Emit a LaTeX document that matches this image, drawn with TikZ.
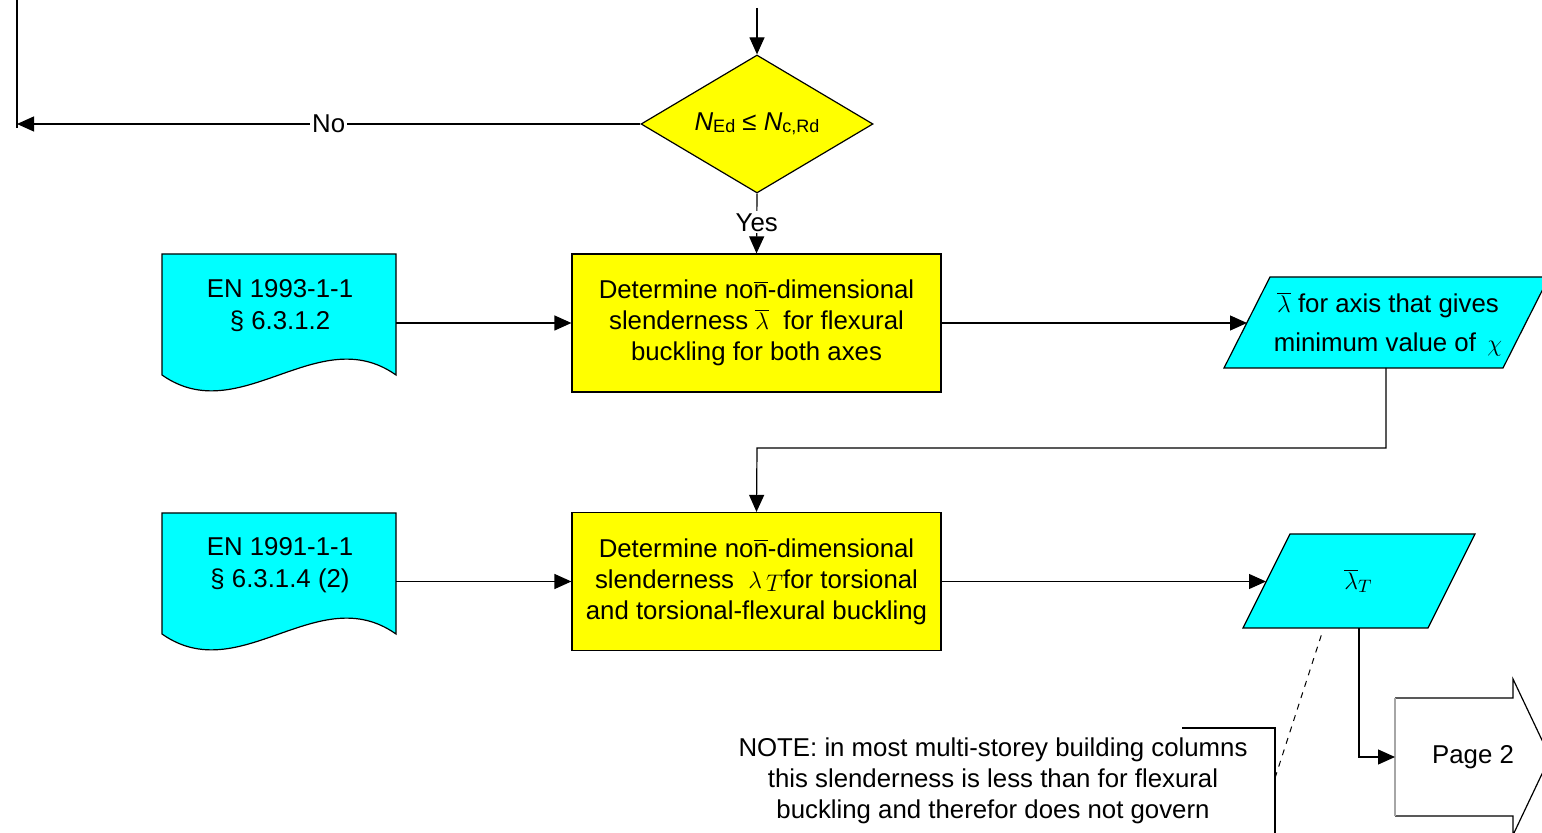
\documentclass[tikz,border=0pt]{standalone}
\usepackage{fontspec}
\setmainfont{Liberation Sans}
\usetikzlibrary{shapes.geometric,arrows.meta}
\definecolor{fyellow}{RGB}{255,255,0}
\definecolor{fcyan}{RGB}{0,255,255}
\newcommand{\barn}{$\overline{\hbox{n}}$}
\begin{document}
\begin{tikzpicture}[x=0.5pt,y=-0.5pt,
  font=\fontsize{12.9}{15.5}\selectfont,
  line width=0.6pt,
  >={Triangle[length=8.5pt,width=7.5pt]},
  process/.style={rectangle, draw, fill=fyellow, minimum width=184.5pt, minimum height=69pt, align=center, inner sep=0pt},
  decision/.style={diamond, draw, fill=fyellow, minimum width=116pt, minimum height=69pt, aspect=1.68, inner sep=0pt},
  datashape/.style={draw, fill=fcyan},
  txt/.style={align=center, inner sep=0pt},
  lbl/.style={fill=white, inner sep=1pt},
  conn/.style={->}
]
\useasboundingbox (0,0) rectangle (1542,833);

% decision
\coordinate (topin) at (757,8);
\node[decision] (dec) at (757,124) {\textit{N}\lower1pt\hbox{\fontsize{9}{10}\selectfont Ed} ≤ \textit{N}\lower1pt\hbox{\fontsize{9}{10}\selectfont c,Rd}};
\draw[conn] (topin) -- (dec.north);

% left "No" branch
\coordinate (ltop) at (17,0);
\coordinate (lbot) at (17,128);
\coordinate (lend) at (17,124);
\draw (ltop) -- (lbot);
\draw[conn] (dec.west) -- node[lbl, pos=0.5] (nolbl) {No} (lend);

% process boxes
\node[process] (box1) at (756.5,323) {Determine no\barn-dimensional\\slenderness $\overline{\lambda}$\ \ for flexural\\buckling for both axes};
\node[process] (box2) at (756.5,581.5) {Determine no\barn-dimensional\\slenderness \ $\lambda\,\lower1.5pt\hbox{$T$}$for torsional\\and torsional-flexural buckling};

\draw[conn] (dec.south) -- node[lbl, pos=0.48] (yeslbl) {Yes} (box1.north);

% documents
\draw[datashape] (162,254) -- (396,254) -- (396,375) .. controls (318,320) and (240,430) .. (162,375) -- cycle;
\node[txt] (doc1) at (280,306) {EN 1993-1-1\\[0.5pt]§ 6.3.1.2};
\coordinate (doc1e) at (396,323);
\draw[conn] (doc1e) -- (box1.west);

\draw[datashape] (162,513) -- (396,513) -- (396,634) .. controls (318,579) and (240,689) .. (162,634) -- cycle;
\node[txt] (doc2) at (280,565) {EN 1991-1-1\\[0.5pt]§ 6.3.1.4 (2)};
\coordinate (doc2e) at (396,581.5);
\draw[conn] (doc2e) -- (box2.west);

% data 1
\draw[datashape] (1270,277) -- (1549,277) -- (1503,368) -- (1224,368) -- cycle;
\node[txt] (data1) at (1388,324) {$\overline{\lambda}$ for axis that gives\\[4pt]minimum value of \,$\chi$};
\coordinate (d1w) at (1247,323);
\coordinate (d1s) at (1386,368);
\draw[conn] (box1.east) -- (d1w);
\draw[conn] (d1s) |- (757,448) -- (box2.north);

% data 2
\draw[datashape] (1290,534) -- (1475,534) -- (1428,628) -- (1243,628) -- cycle;
\node[txt] (data2) at (1358,581) {$\overline{\lambda}\lower1.5pt\hbox{$\scriptstyle T$}$};
\coordinate (d2w) at (1266,581.5);
\coordinate (d2s) at (1359,628);
\draw[conn] (box2.east) -- (d2w);

% page 2 off-page connector
\draw (1395,698) -- (1513,698) -- (1513,679) -- (1550,757) -- (1513,835) -- (1513,816) -- (1395,816);
\draw[gray!70] (1395,698) -- (1395,816);
\node[txt] (page2) at (1473,757) {Page 2};
\coordinate (p2w) at (1395,757);
\draw[conn] (d2s) |- (p2w);

% note
\node[txt] (note) at (993,781) {NOTE: in most multi-storey building columns\\[0pt]this slenderness is less than for flexural\\[0pt]buckling and therefor does not govern};
\coordinate (nb1) at (1182,728);
\coordinate (nb2) at (1275,728);
\coordinate (nb3) at (1275,840);
\coordinate (nlink) at (1275,778);
\coordinate (d2link) at (1322,633);
\draw (nb1) -- (nb2) -- (nb3);
\draw[dashed, line width=0.5pt] (nlink) -- (d2link);
\end{tikzpicture}
\end{document}
